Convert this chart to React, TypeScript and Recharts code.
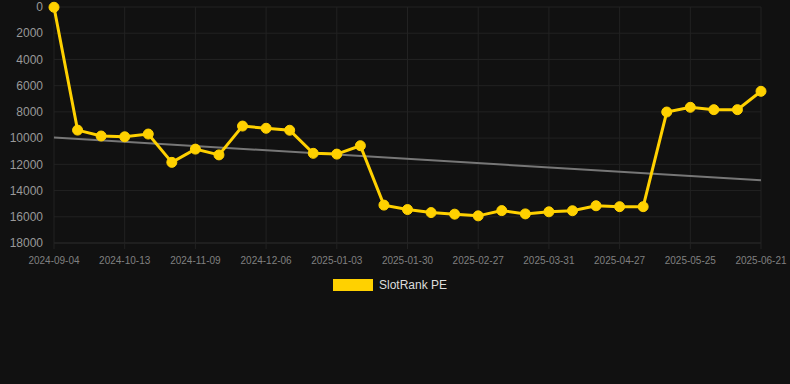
import React from 'react';
import { LineChart, Line, XAxis, YAxis, CartesianGrid } from 'recharts';

const YELLOW = '#ffd100';

const dates = [
    '2024-09-04', '2024-09-17', '2024-09-30', '2024-10-13', '2024-10-22', '2024-10-31',
    '2024-11-09', '2024-11-18', '2024-11-27', '2024-12-06', '2024-12-15', '2024-12-24',
    '2025-01-03', '2025-01-12', '2025-01-21', '2025-01-30', '2025-02-08', '2025-02-17',
    '2025-02-27', '2025-03-10', '2025-03-20', '2025-03-31', '2025-04-09', '2025-04-18',
    '2025-04-27', '2025-05-06', '2025-05-15', '2025-05-25', '2025-06-03', '2025-06-12',
    '2025-06-21',
];

const rankValues = [
    20, 9390, 9840, 9900, 9690, 11850, 10840, 11280, 9080, 9250, 9400, 11160,
    11220, 10580, 15110, 15450, 15680, 15800, 15930, 15530, 15780, 15620, 15540, 15160,
    15230, 15230, 8010, 7650, 7830, 7830, 6430,
];

// trend line endpoints (first and last date)
const trendStart = 9950;
const trendEnd = 13220;

const yTicks = [0, 2000, 4000, 6000, 8000, 10000, 12000, 14000, 16000, 18000];

const data = dates.map((d, i) => ({
    date: d,
    rank: rankValues[i],
    trend: i === 0 ? trendStart : i === dates.length - 1 ? trendEnd : null,
}));

const FONT = 'Arial, "Liberation Sans", sans-serif';

export default function App() {
    return (
        <div style={{ position: 'absolute', top: 0, left: 0, width: 790, height: 384, background: '#111111' }}>
            <LineChart
                width={790}
                height={384}
                data={data}
                margin={{ top: 7, right: 29, bottom: 111, left: 0 }}
                style={{ fontFamily: FONT }}
            >
                <CartesianGrid stroke="#222222" strokeWidth={1} />
                <XAxis
                    dataKey="date"
                    interval={2}
                    tick={{ fill: '#808080', fontSize: 10 }}
                    tickLine={{ stroke: '#222222' }}
                    tickSize={6}
                    tickMargin={8}
                    axisLine={{ stroke: '#262626' }}
                    height={30}
                />
                <YAxis
                    reversed
                    domain={[0, 18000]}
                    ticks={yTicks}
                    interval={0}
                    width={54}
                    tick={{ fill: '#999999', fontSize: 12 }}
                    tickLine={false}
                    tickSize={6}
                    tickMargin={5}
                    axisLine={false}
                />
                <Line
                    dataKey="trend"
                    stroke="#777777"
                    strokeWidth={2}
                    dot={false}
                    connectNulls
                    isAnimationActive={false}
                />
                <Line
                    dataKey="rank"
                    stroke={YELLOW}
                    strokeWidth={3}
                    dot={{ r: 5, fill: YELLOW, stroke: YELLOW, strokeWidth: 1 }}
                    activeDot={false}
                    isAnimationActive={false}
                />
            </LineChart>
            <div style={{ position: 'absolute', top: 279, left: 333, display: 'flex', alignItems: 'center', fontFamily: FONT, fontSize: 12, color: '#dddddd', lineHeight: '12px' }}>
                <span style={{ display: 'inline-block', width: 40, height: 12, background: YELLOW, marginRight: 6 }} />
                <span>SlotRank PE</span>
            </div>
        </div>
    );
}
